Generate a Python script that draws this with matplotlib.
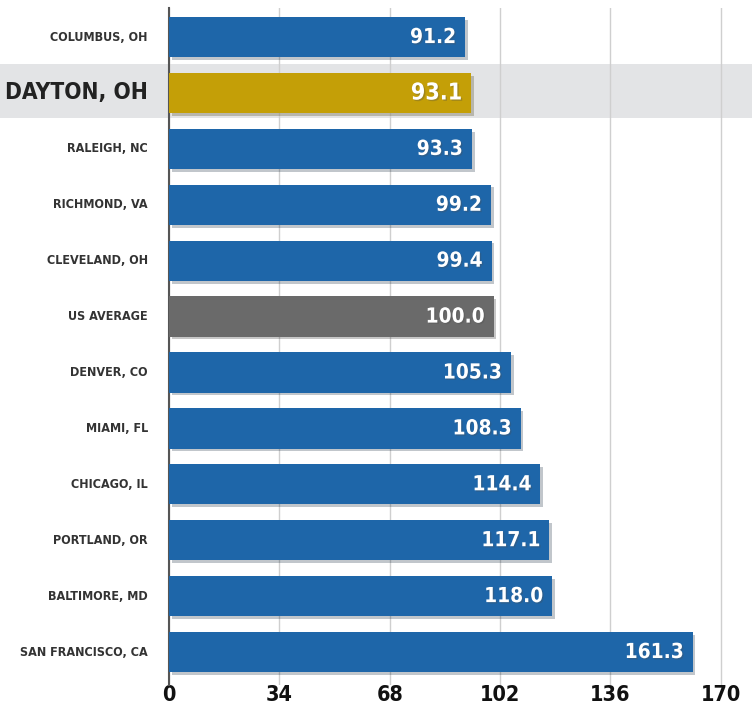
"""Cost of living index bar chart."""
import matplotlib.pyplot as plt
import matplotlib.patheffects as pe
from matplotlib import font_manager
from matplotlib.patches import Rectangle

cities = [
    "COLUMBUS, OH", "DAYTON, OH", "RALEIGH, NC", "RICHMOND, VA", "CLEVELAND, OH",
    "US AVERAGE", "DENVER, CO", "MIAMI, FL", "CHICAGO, IL", "PORTLAND, OR",
    "BALTIMORE, MD", "SAN FRANCISCO, CA",
]
values = [91.2, 93.1, 93.3, 99.2, 99.4, 100.0, 105.3, 108.3, 114.4, 117.1, 118.0, 161.3]
ticks = [0, 34, 68, 102, 136, 170]
highlight = "DAYTON, OH"
average = "US AVERAGE"

BLUE = "#1e66a9"
GOLD = "#c49f07"
GRAY = "#6a6a6a"

# use a condensed face if one is installed, otherwise shrink the regular one
condensed = any(f.name == "DejaVu Sans" and f.stretch in ("condensed", 600, "semi-condensed")
                for f in font_manager.fontManager.ttflist)
STRETCH = "condensed" if condensed else "normal"
k = 1.15 if condensed else 1.0
FONT = dict(family="DejaVu Sans", fontweight="bold", fontstretch=STRETCH)

fig = plt.figure(figsize=(7.52, 7.08), dpi=100)
ax = fig.add_axes([169 / 752, 1 - 685 / 708, 555 / 752, 677 / 708])
ax.patch.set_alpha(0)

# highlight band across the full figure width
fig.patches.append(Rectangle((0, 1 - 118 / 708), 1, 54 / 708, transform=fig.transFigure,
                             facecolor="#e3e4e6", edgecolor="none", zorder=-5))

colors = [GOLD if c == highlight else GRAY if c == average else BLUE for c in cities]
ypos = list(range(len(cities)))
bars = ax.barh(ypos, values, height=0.72, color=colors, zorder=3)
for b in bars:
    b.set_path_effects([pe.SimplePatchShadow(offset=(2, -2), alpha=0.25), pe.Normal()])

for i, (c, v) in enumerate(zip(cities, values)):
    big = c == highlight
    ax.text(v - 2.8, i, f"{v:.1f}", ha="right", va="center", color="white",
            fontsize=(14.5 if big else 13) * k, zorder=4,
            path_effects=[pe.withSimplePatchShadow(offset=(1, -1), alpha=0.3)], **FONT)
    ax.text(-6.5, i, c, ha="right", va="center", color="#222222" if big else "#333333",
            fontsize=(14.2 if big else 7.8) * k, **FONT)

ax.set_xlim(0, 171)
ax.set_ylim(11.59, -0.52)
ax.set_xticks(ticks)
ax.set_xticklabels([str(t) for t in ticks], fontsize=13.5 * k, color="#111111", **FONT)
ax.set_yticks([])
ax.tick_params(axis="x", length=0, pad=0)
ax.grid(axis="x", color="#cfcfcf", linewidth=1, zorder=0)
for s in ["top", "right", "bottom"]:
    ax.spines[s].set_visible(False)
ax.spines["left"].set_color("#555555")
ax.spines["left"].set_linewidth(1.5)

fig.savefig("out.png", dpi=100)
